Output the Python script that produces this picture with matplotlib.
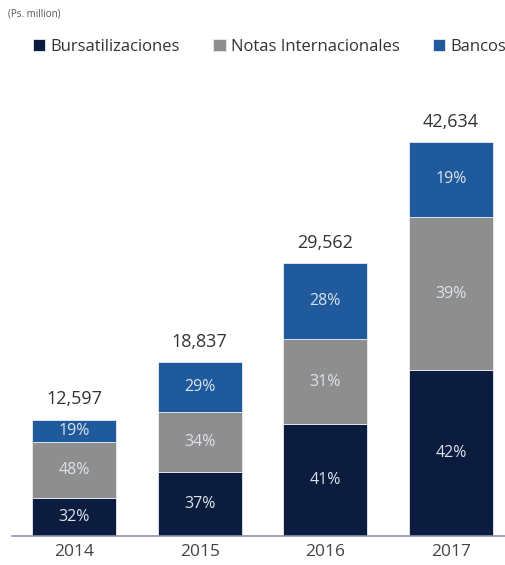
import numpy as np
import matplotlib.pyplot as plt

# data
years = ["2014", "2015", "2016", "2017"]
totals = [12597, 18837, 29562, 42634]
series = ["Bursatilizaciones", "Notas Internacionales", "Bancos"]
pct_burs = [32, 37, 41, 42]
pct_notas = [48, 34, 31, 39]
pct_bancos = [19, 29, 28, 19]
colors = ["#0b1c3f", "#8e8e8e", "#1f5b9c"]

plt.rcParams['font.family'] = ['Open Sans', 'DejaVu Sans']

fig = plt.figure(figsize=(5.06, 5.65), dpi=100)
ax = fig.add_axes([12/506, 29/565, 494/506, 416/565])

x = np.arange(len(years))
pcts = np.array([pct_burs, pct_notas, pct_bancos], dtype=float)
tot = np.array(totals, dtype=float)
# each segment is its share of the total (2014 shares add to 99)
segs = pcts / pcts.sum(axis=0) * tot

bottom = np.zeros(len(years))
for i in range(len(series)):
    ax.bar(x, segs[i], 0.668, bottom=bottom, color=colors[i],
           edgecolor="#e8edf5", linewidth=0.6, label=series[i])
    for j in range(len(years)):
        ax.text(x[j], bottom[j] + segs[i][j]/2, "%d%%" % pcts[i][j],
                ha='center', va='center', fontsize=11.5, color="#dde2ea")
    bottom += segs[i]

for j in range(len(years)):
    ax.annotate("{:,}".format(totals[j]), (x[j], tot[j]), xytext=(0, 8),
                textcoords='offset points', ha='center', va='bottom',
                fontsize=13, color="#333333")

ax.set_xlim(-0.493, 3.437)
ax.set_ylim(0, 45000)
ax.set_xticks(x)
ax.set_xticklabels(years, fontsize=12.5, color="#444444")
ax.tick_params(axis='x', length=0, pad=6)
ax.set_yticks([])
for s in ['top', 'right', 'left']:
    ax.spines[s].set_visible(False)
ax.spines['bottom'].set_color("#8a93a8")
ax.spines['bottom'].set_linewidth(1.2)

fig.text(8/506, 1 - 14/565, "(Ps. million)", fontsize=7, color="#555555",
         va='center')
fig.legend(loc='center left', bbox_to_anchor=(33/506, 1 - 47/565), ncol=3,
           frameon=False, fontsize=12, handlelength=0.75, handleheight=0.75,
           handletextpad=0.3, columnspacing=2.0, borderpad=0, borderaxespad=0,
           labelcolor="#333333")

fig.savefig("out.png", dpi=100)
